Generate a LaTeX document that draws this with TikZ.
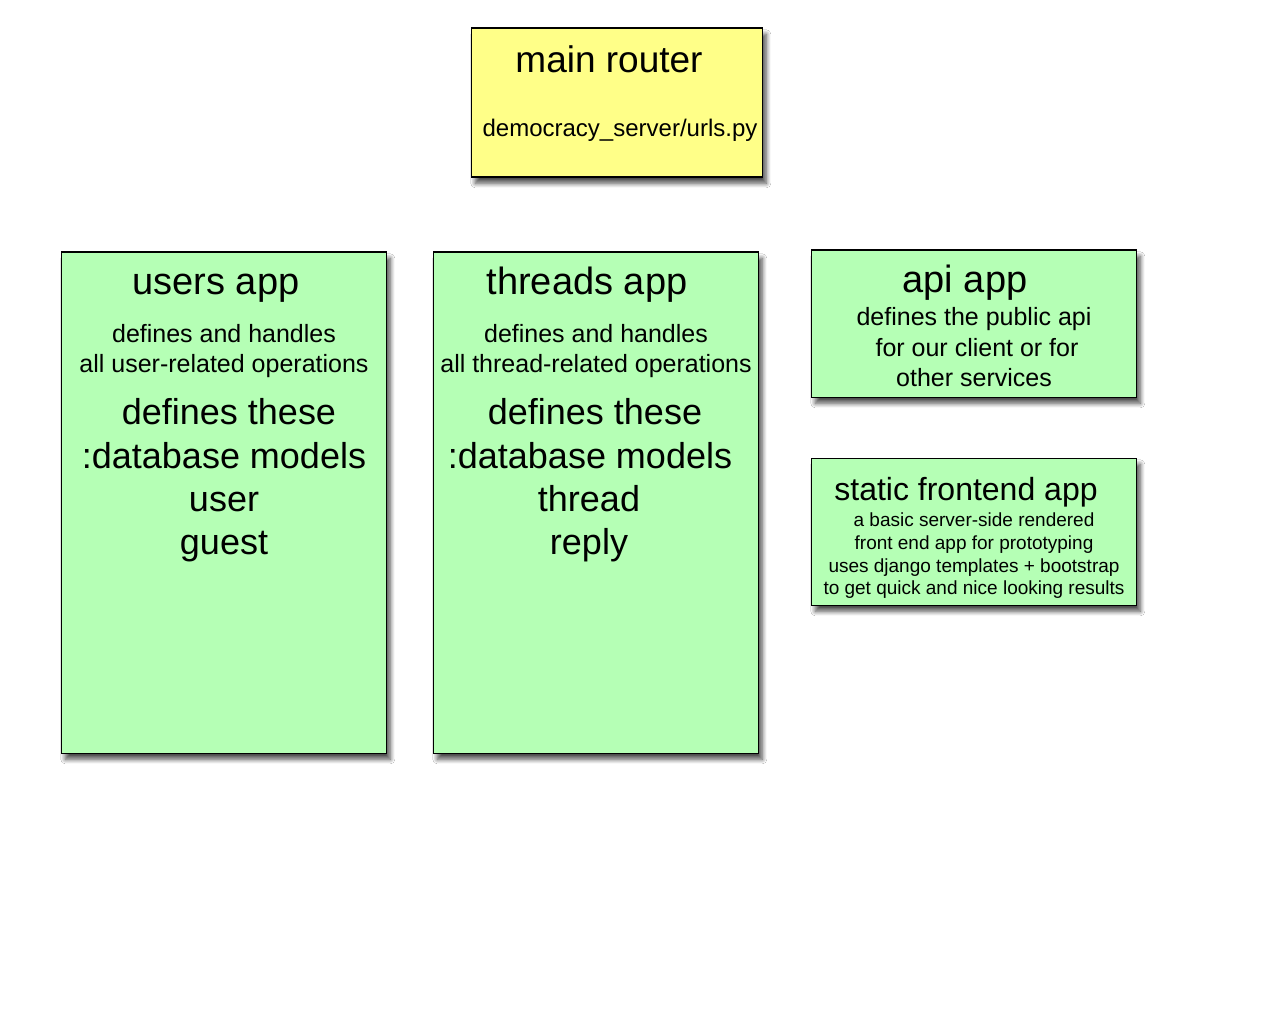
\documentclass[tikz,border=0pt]{standalone}
\usepackage{fontspec}
\setmainfont{Liberation Sans}
\usetikzlibrary{shadows.blur}
\definecolor{appgreen}{RGB}{181,255,181}
\definecolor{routeryellow}{RGB}{255,255,136}
\tikzset{
  box/.style={draw=black, line width=1.6pt, inner sep=0pt, anchor=north west,
    blur shadow={shadow xshift=4pt, shadow yshift=-6pt, shadow blur radius=4.5pt, shadow blur steps=10, shadow opacity=70}},
  appbox/.style={box, fill=appgreen},
  routerbox/.style={box, fill=routeryellow},
  txt/.style={anchor=base, inner sep=0pt, text=black},
  ftitle/.style={txt, font=\fontsize{38}{40}\selectfont},
  fbig/.style={txt, font=\fontsize{36}{38}\selectfont},
  fmid/.style={txt, font=\fontsize{25}{27}\selectfont},
  fsmall/.style={txt, font=\fontsize{19}{21}\selectfont},
}
\begin{document}
\begin{tikzpicture}[x=1pt,y=-1pt]
\useasboundingbox[fill=white] (0,0) rectangle (1280,1024);
% boxes
\node[routerbox, minimum width=291pt, minimum height=149pt] (router) at (470.5,27.5) {};
\node[appbox, minimum width=325pt, minimum height=501pt] (users) at (60.5,251.5) {};
\node[appbox, minimum width=325pt, minimum height=501pt] (threads) at (432.5,251.5) {};
\node[appbox, minimum width=325pt, minimum height=147pt] (api) at (810.5,249.5) {};
\node[appbox, minimum width=325pt, minimum height=147pt] (static) at (810.5,457.5) {};
% router
\node[txt, font=\fontsize{37}{39}\selectfont] (rt) at (609,73) {main router};
\node[txt, font=\fontsize{24}{26}\selectfont] (rf) at (620,137) {democracy\_server/urls.py};
% users
\node[ftitle] (u1) at (216,295) {users app};
\node[fmid] (u2) at (224,342) {defines and handles};
\node[fmid] (u3) at (224,372) {all user-related operations};
\node[fbig] (u4) at (229,424) {defines these};
\node[fbig] (u5) at (224,468) {:database models};
\node[fbig] (u6) at (224,511) {user};
\node[fbig] (u7) at (224,554) {guest};
% threads
\node[ftitle] (t1) at (587,295) {threads app};
\node[fmid] (t2) at (596,342) {defines and handles};
\node[fmid] (t3) at (596,372) {all thread-related operations};
\node[fbig] (t4) at (595,424) {defines these};
\node[fbig] (t5) at (590,468) {:database models};
\node[fbig] (t6) at (589,511) {thread};
\node[fbig] (t7) at (589,554) {reply};
% api
\node[ftitle] (a1) at (965,293) {api app};
\node[fmid] (a2) at (974,326) {defines the public api};
\node[fmid] (a3) at (977,356) {for our client or for};
\node[fmid] (a4) at (974,386) {other services};
% static
\node[txt, font=\fontsize{32}{34}\selectfont] (s1) at (966,500) {static frontend app};
\node[fsmall] (s2) at (974,526) {a basic server-side rendered};
\node[fsmall] (s3) at (974,549) {front end app for prototyping};
\node[fsmall] (s4) at (974,572) {uses django templates + bootstrap};
\node[fsmall] (s5) at (974,594) {to get quick and nice looking results};
\end{tikzpicture}
\end{document}
